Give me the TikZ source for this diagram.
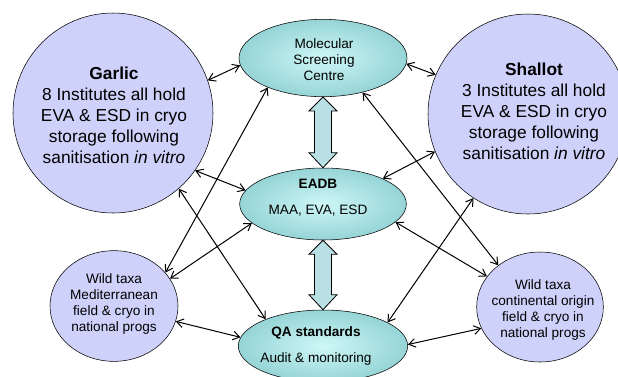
\documentclass[tikz,border=0pt]{standalone}
\usepackage{fontspec}
\setmainfont{Liberation Sans}
\usetikzlibrary{shapes.geometric,arrows.meta,calc}
\definecolor{lavande}{RGB}{206,210,250}
\definecolor{tealin}{RGB}{206,247,247}
\definecolor{tealout}{RGB}{150,212,214}
\definecolor{tealarrow}{RGB}{184,224,228}
\tikzset{
    bigcircle/.style={circle, draw, fill=lavande, minimum size=150pt, inner sep=0pt},
    wildcircle/.style={ellipse, draw, fill=lavande, inner sep=0pt},
    centre/.style={ellipse, draw, inner color=tealin, outer color=tealout, inner sep=0pt},
    bigtxt/.style={align=center, font=\fontsize{13}{15.75}\selectfont},
    smalltxt/.style={align=center, font=\fontsize{10.2}{12}\selectfont},
    link/.style={{Straight Barb[length=5pt,width=6.5pt]}-{Straight Barb[length=5pt,width=6.5pt]}, line width=0.75pt},
  }
% double block arrow from tip #1 down to tip #2
\newcommand{\blockarrow}[2]{%
  \filldraw[fill=tealarrow, line width=0.6pt] (#1) -- ++(14,14) -- ++(-5.5,0) -- ($(#2)+(8.5,-15)$) -- ++(5.5,0) -- (#2)
     -- ++(-14,-15) -- ++(5.5,0) -- ($(#1)+(-8.5,14)$) -- ++(-5.5,0) -- cycle;%
}

\begin{document}
\begin{tikzpicture}[x=0.75pt,y=-0.75pt]
		\useasboundingbox (0,0) rectangle (618,376);

		%CIRCLES
		\node[bigcircle] (garlic) at (113,113) {};
		\node[bigcircle] (shallot) at (528,114) {};
		\node[wildcircle, minimum width=96pt, minimum height=83pt] (wildmed) at (114,306) {};
		\node[wildcircle, minimum width=95pt, minimum height=82.5pt] (wildcont) at (540,307) {};

		%CENTRES
		\node[centre, minimum width=126pt, minimum height=58pt] (msc) at (323,58) {};
		\node[centre, minimum width=125pt, minimum height=54pt] (eadb) at (323,204) {};
		\node[centre, minimum width=127pt, minimum height=54pt] (qa) at (323,346) {};

		%TEXTS
		\node[bigtxt] (garlictxt) at (114,115) {\textbf{Garlic}\\8 Institutes all hold\\EVA \& ESD in cryo\\storage following\\sanitisation \textit{in vitro}};
		\node[bigtxt] (shallottxt) at (534,111) {\textbf{Shallot}\\3 Institutes all hold\\EVA \& ESD in cryo\\storage following\\sanitisation \textit{in vitro}};
		\node[smalltxt] (wildmedtxt) at (114,304) {Wild taxa\\Mediterranean\\field \& cryo in\\national progs};
		\node[smalltxt] (wildconttxt) at (543,310) {Wild taxa\\continental origin\\field \& cryo in\\national progs};
		\node[smalltxt] (msctxt) at (324,60) {Molecular\\Screening\\Centre};
		\node[smalltxt] (eadbtxt) at (318,198) {\textbf{EADB}\\[7.5pt]MAA, EVA, ESD};
		\node[smalltxt] (qatxt) at (316,346) {\textbf{QA standards}\\[8pt]Audit \& monitoring};

		%BLOCK ARROWS
		\blockarrow{msc.south}{eadb.north}
		\blockarrow{eadb.south}{qa.north}

		%LINKS
		\draw[link] (garlic.19.5) -- (msc.185);
		\draw[link] (garlic.-35.5) -- (eadb.170);
		\draw[link] (garlic.-49) -- (qa.155.5);
		\draw[link] (msc.208.6) -- (wildmed.33.4);
		\draw[link] (eadb.195) -- (wildmed.26);
		\draw[link] (wildmed.-14.4) -- (qa.174);
		\draw[link] (msc.-41.2) -- (wildcont.135);
		\draw[link] (shallot.157.4) -- (msc.-4.7);
		\draw[link] (shallot.202) -- (eadb.23);
		\draw[link] (eadb.-14.6) -- (wildcont.150.5);
		\draw[link] (shallot.237.4) -- (qa.20);
		\draw[link] (wildcont.200) -- (qa.1.4);
\end{tikzpicture}
\end{document}
